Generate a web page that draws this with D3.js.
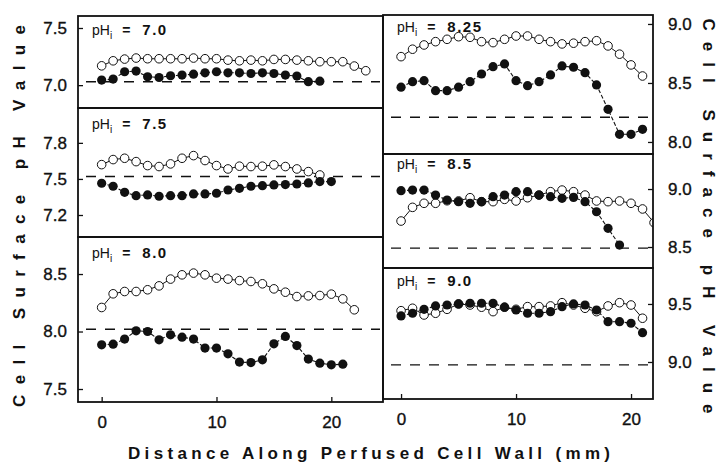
<!DOCTYPE html>
<html>
<head>
<meta charset="utf-8">
<script src="https://cdn.jsdelivr.net/npm/d3@7/dist/d3.min.js"></script>
<style>
  html, body { margin: 0; padding: 0; background: #fff; }
  svg { display: block; }
  text { font-family: "Liberation Sans", Arial, Helvetica, sans-serif; fill: #111; }
</style>
</head>
<body>
<svg id="chart" width="721" height="462"></svg>
<script>
// Internal pH of each perfusion run
const internalPH = ["7.0", "7.5", "8.0", "8.25", "8.5", "9.0"];

// Surface pH profiles: open circles and filled circles, one value per mm
const open70 = [7.169, 7.213, 7.228, 7.237, 7.231, 7.231, 7.231, 7.231, 7.237, 7.231, 7.231, 7.219, 7.213, 7.219, 7.213, 7.225, 7.225, 7.219, 7.213, 7.205, 7.205, 7.205, 7.167, 7.126];
const filled70 = [7.044, 7.053, 7.117, 7.123, 7.073, 7.067, 7.082, 7.088, 7.096, 7.108, 7.117, 7.108, 7.108, 7.102, 7.108, 7.102, 7.088, 7.079, 7.030, 7.035];

const open75 = [7.619, 7.661, 7.672, 7.644, 7.611, 7.603, 7.625, 7.672, 7.694, 7.653, 7.611, 7.583, 7.606, 7.603, 7.606, 7.617, 7.603, 7.583, 7.561, 7.533];
const filled75 = [7.464, 7.439, 7.389, 7.361, 7.367, 7.356, 7.361, 7.361, 7.375, 7.375, 7.381, 7.408, 7.422, 7.439, 7.444, 7.450, 7.453, 7.458, 7.467, 7.478, 7.478];

const open80 = [8.209, 8.328, 8.348, 8.348, 8.363, 8.397, 8.456, 8.493, 8.508, 8.493, 8.464, 8.456, 8.443, 8.435, 8.415, 8.371, 8.342, 8.304, 8.310, 8.313, 8.325, 8.284, 8.189];
const filled80 = [7.884, 7.890, 7.934, 8.006, 8.000, 7.928, 7.971, 7.951, 7.934, 7.856, 7.856, 7.806, 7.734, 7.730, 7.754, 7.893, 7.957, 7.878, 7.760, 7.725, 7.710, 7.716];

const open825 = [8.723, 8.786, 8.822, 8.850, 8.870, 8.892, 8.887, 8.850, 8.842, 8.870, 8.898, 8.898, 8.870, 8.850, 8.831, 8.837, 8.850, 8.858, 8.814, 8.744, 8.653, 8.559];
const filled825 = [8.464, 8.511, 8.519, 8.435, 8.435, 8.464, 8.511, 8.576, 8.638, 8.661, 8.519, 8.477, 8.511, 8.568, 8.644, 8.633, 8.587, 8.483, 8.277, 8.065, 8.065, 8.107];

const open85 = [8.724, 8.842, 8.877, 8.877, 8.899, 8.897, 8.925, 8.891, 8.891, 8.911, 8.897, 8.925, 8.948, 8.977, 8.991, 8.977, 8.948, 8.897, 8.891, 8.897, 8.877, 8.828, 8.710];
const filled85 = [8.986, 8.991, 8.991, 8.948, 8.905, 8.891, 8.877, 8.891, 8.934, 8.948, 8.977, 8.977, 8.948, 8.934, 8.920, 8.928, 8.891, 8.804, 8.661, 8.517];

const open90 = [9.442, 9.463, 9.405, 9.420, 9.454, 9.500, 9.491, 9.472, 9.434, 9.472, 9.454, 9.477, 9.477, 9.483, 9.511, 9.491, 9.463, 9.434, 9.483, 9.511, 9.491, 9.377];
const filled90 = [9.397, 9.420, 9.454, 9.483, 9.491, 9.500, 9.506, 9.506, 9.506, 9.472, 9.448, 9.420, 9.420, 9.434, 9.477, 9.500, 9.491, 9.448, 9.347, 9.347, 9.334, 9.253];

// Bathing-medium pH drawn as the dashed reference in each panel
const mediumPH = [7.03, 7.52, 8.02, 8.21, 8.49, 8.975];

// Tick labels
const yTicks70 = [7.0, 7.5];
const yTicks75 = [7.2, 7.5, 7.8];
const yTicks80 = [7.5, 8.0, 8.5];
const yTicks825 = [8.0, 8.5, 9.0];
const yTicks85 = [8.5, 9.0];
const yTicks90 = [9.0, 9.5];
const xTicks = [0, 10, 20];

const svg = d3.select("#chart");

// Column geometry
const left = { x0: 78, x1: 383, domain: [-2.06, 24.5] };
const right = { x0: 383, x1: 653, domain: [-1.57, 21.91] };

const panels = [
  { col: left,  side: "left",  y0: 16,  y1: 108, domain: [6.80, 7.605], open: open70,  filled: filled70,  ticks: yTicks70,  label: internalPH[0], ref: mediumPH[0], labelY: 35 },
  { col: left,  side: "left",  y0: 108, y1: 237, domain: [7.017, 8.09], open: open75,  filled: filled75,  ticks: yTicks75,  label: internalPH[1], ref: mediumPH[1], labelY: 129 },
  { col: left,  side: "left",  y0: 237, y1: 402, domain: [7.387, 8.822], open: open80, filled: filled80,  ticks: yTicks80,  label: internalPH[2], ref: mediumPH[2], labelY: 258, xAxis: true },
  { col: right, side: "right", y0: 15,  y1: 154, domain: [7.898, 9.076], open: open825, filled: filled825, ticks: yTicks825, label: internalPH[3], ref: mediumPH[3], labelY: 32 },
  { col: right, side: "right", y0: 154, y1: 268, domain: [8.319, 9.302], open: open85,  filled: filled85,  ticks: yTicks85,  label: internalPH[4], ref: mediumPH[4], labelY: 169 },
  { col: right, side: "right", y0: 268, y1: 399, domain: [8.681, 9.81],  open: open90,  filled: filled90,  ticks: yTicks90,  label: internalPH[5], ref: mediumPH[5], labelY: 286, xAxis: true }
];

panels.forEach((p, i) => {
  const x = d3.scaleLinear().domain(p.col.domain).range([p.col.x0, p.col.x1]);
  const y = d3.scaleLinear().domain(p.domain).range([p.y1, p.y0]);
  const g = svg.append("g");

  const clipId = "clip" + i;
  svg.append("clipPath").attr("id", clipId)
    .append("rect")
    .attr("x", p.col.x0).attr("y", p.y0)
    .attr("width", p.col.x1 - p.col.x0).attr("height", p.y1 - p.y0);

  const plot = g.append("g").attr("clip-path", `url(#${clipId})`);

  // dashed reference line
  plot.append("line")
    .attr("x1", p.col.x0 + 8).attr("x2", p.col.x1 - 3)
    .attr("y1", y(p.ref)).attr("y2", y(p.ref))
    .attr("stroke", "#111").attr("stroke-width", 1.4)
    .attr("stroke-dasharray", "10,9");

  const line = d3.line().x((d, j) => x(j)).y(d => y(d));

  plot.append("path").datum(p.open)
    .attr("d", line).attr("fill", "none")
    .attr("stroke", "#111").attr("stroke-width", 1);
  plot.append("path").datum(p.filled)
    .attr("d", line).attr("fill", "none")
    .attr("stroke", "#111").attr("stroke-width", 1.1)
    .attr("stroke-dasharray", "4,2");

  plot.selectAll("circle.open").data(p.open).join("circle")
    .attr("class", "open")
    .attr("cx", (d, j) => x(j)).attr("cy", d => y(d)).attr("r", 4.3)
    .attr("fill", "#fff").attr("stroke", "#111").attr("stroke-width", 1);
  plot.selectAll("circle.filled").data(p.filled).join("circle")
    .attr("class", "filled")
    .attr("cx", (d, j) => x(j)).attr("cy", d => y(d)).attr("r", 4.6)
    .attr("fill", "#111");

  // y axis: inward ticks, labels outside
  const yAxis = p.side === "left"
    ? d3.axisLeft(y).tickValues(p.ticks).tickSize(-5).tickPadding(11).tickFormat(d3.format(".1f"))
    : d3.axisRight(y).tickValues(p.ticks).tickSize(-5).tickPadding(15).tickFormat(d3.format(".1f"));
  const ya = g.append("g")
    .attr("transform", `translate(${p.side === "left" ? p.col.x0 : p.col.x1},0)`)
    .call(yAxis);
  ya.select(".domain").remove();
  ya.selectAll(".tick line").attr("stroke", "#111").attr("stroke-width", 1.3);
  ya.selectAll(".tick text").style("font-size", "17px").style("fill", "#111")
    .style("stroke", "#111").style("stroke-width", 0.35);

  if (p.xAxis) {
    const xa = g.append("g")
      .attr("transform", `translate(0,${p.y1})`)
      .call(d3.axisBottom(x).tickValues(xTicks).tickSize(-5).tickPadding(14).tickFormat(d3.format("d")));
    xa.select(".domain").remove();
    xa.selectAll(".tick line").attr("stroke", "#111").attr("stroke-width", 1.3);
    xa.selectAll(".tick text").style("font-size", "17px").style("fill", "#111")
      .style("stroke", "#111").style("stroke-width", 0.35);
  }

  // frame
  g.append("rect")
    .attr("x", p.col.x0).attr("y", p.y0)
    .attr("width", p.col.x1 - p.col.x0).attr("height", p.y1 - p.y0)
    .attr("fill", "none").attr("stroke", "#111").attr("stroke-width", 1.8);

  // panel label: pHi = value
  const t = g.append("text")
    .attr("x", p.col.x0 + 14).attr("y", p.labelY)
    .style("font-size", "14px");
  t.append("tspan").text("pH");
  t.append("tspan").attr("dy", 4).style("font-size", "10px").text("i");
  t.append("tspan").attr("dy", -4).attr("dx", 10).style("font-weight", "bold").text("=");
  t.append("tspan").attr("dx", 12).style("font-size", "15px").style("font-weight", "bold")
    .style("letter-spacing", "1.5px").text(p.label);
});

// axis titles
svg.append("text")
  .attr("x", 369).attr("y", 459)
  .attr("text-anchor", "middle")
  .attr("textLength", 482).attr("lengthAdjust", "spacing")
  .style("font-size", "17px").style("font-weight", "bold")
  .text("Distance Along Perfused Cell Wall (mm)");

svg.append("text")
  .attr("transform", "translate(25,216) rotate(-90)")
  .attr("text-anchor", "middle")
  .attr("textLength", 382).attr("lengthAdjust", "spacing")
  .style("font-size", "17px").style("font-weight", "bold")
  .text("Cell  Surface  pH  Value");

svg.append("text")
  .attr("transform", "translate(703,216) rotate(90)")
  .attr("text-anchor", "middle")
  .attr("textLength", 395).attr("lengthAdjust", "spacing")
  .style("font-size", "17px").style("font-weight", "bold")
  .text("Cell  Surface  pH  Value");
</script>
</body>
</html>
